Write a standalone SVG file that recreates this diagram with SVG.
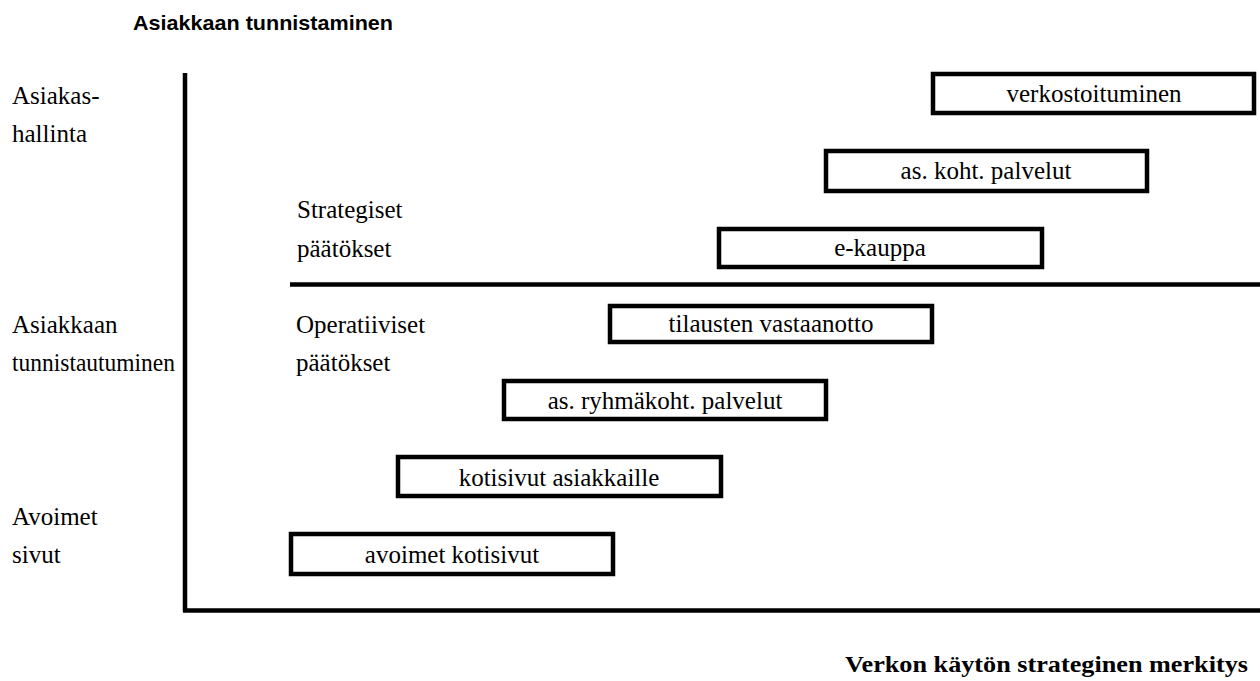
<svg xmlns="http://www.w3.org/2000/svg" width="1260" height="681" viewBox="0 0 1260 681">
<style>
  .bx { fill: #fff; stroke: #000; stroke-width: 4.5; }
  .t { font-family: "Liberation Serif", "Times New Roman", serif; font-size: 25px; fill: #000; }
  .c { text-anchor: middle; }
  .axis { stroke: #000; stroke-width: 4.5; fill: none; }
  .title { font-family: "Liberation Sans", Arial, sans-serif; font-weight: bold; font-size: 21px; fill: #000; }
  .xtitle { font-family: "Liberation Serif", "Times New Roman", serif; font-weight: bold; font-size: 24px; fill: #000; }
</style>
<rect width="1260" height="681" fill="#fff"/>
<text class="title" x="133" y="30" textLength="260" lengthAdjust="spacingAndGlyphs">Asiakkaan tunnistaminen</text>
<text class="xtitle" x="845" y="672" textLength="403" lengthAdjust="spacingAndGlyphs">Verkon käytön strateginen merkitys</text>
<g id="connectors">
  <line class="axis" x1="185" y1="73" x2="185" y2="612"/>
  <line class="axis" x1="183" y1="610.5" x2="1260" y2="610.5"/>
  <line class="axis" x1="290" y1="284.5" x2="1260" y2="284.5"/>
</g>
<g id="labels">
  <text class="t" x="12" y="104">Asiakas-</text>
  <text class="t" x="12" y="142">hallinta</text>
  <text class="t" x="12" y="333">Asiakkaan</text>
  <text class="t" x="12" y="371" textLength="163" lengthAdjust="spacingAndGlyphs">tunnistautuminen</text>
  <text class="t" x="12" y="525">Avoimet</text>
  <text class="t" x="12" y="563">sivut</text>
  <text class="t" x="297" y="218">Strategiset</text>
  <text class="t" x="297" y="257">päätökset</text>
  <text class="t" x="296" y="333">Operatiiviset</text>
  <text class="t" x="296" y="371">päätökset</text>
</g>
<g id="n-verkostoituminen"><rect class="bx" x="933" y="74" width="321" height="39"/><text class="t c" x="1094" y="102">verkostoituminen</text></g>
<g id="n-askoht"><rect class="bx" x="826" y="151" width="321" height="40"/><text class="t c" x="986" y="179">as. koht. palvelut</text></g>
<g id="n-ekauppa"><rect class="bx" x="719" y="229" width="323" height="38"/><text class="t c" x="880" y="256">e-kauppa</text></g>
<g id="n-tilausten"><rect class="bx" x="610" y="306" width="322" height="36"/><text class="t c" x="771" y="332">tilausten vastaanotto</text></g>
<g id="n-ryhmakoht"><rect class="bx" x="504" y="381" width="322" height="38"/><text class="t c" x="665" y="409">as. ryhmäkoht. palvelut</text></g>
<g id="n-kotisivut-asiakkaille"><rect class="bx" x="398" y="457" width="323" height="39"/><text class="t c" x="559" y="486">kotisivut asiakkaille</text></g>
<g id="n-avoimet-kotisivut"><rect class="bx" x="291" y="534" width="322" height="40"/><text class="t c" x="452" y="563">avoimet kotisivut</text></g>
</svg>
